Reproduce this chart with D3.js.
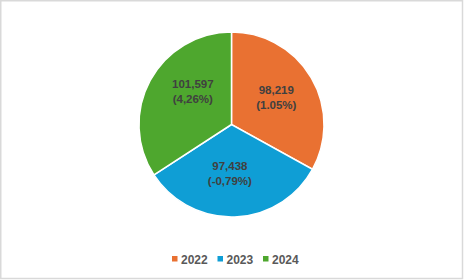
<!DOCTYPE html>
<html>
<head>
<meta charset="utf-8">
<script src="https://cdn.jsdelivr.net/npm/d3@7"></script>
<style>
  html, body { margin: 0; padding: 0; background: #fff; }
  svg { display: block; }
</style>
</head>
<body>
<div id="chart"></div>
<script>
// chart data
var years = ["2022", "2023", "2024"];
var values = [98219, 97438, 101597];
var valueLabels = ["98,219", "97,438", "101,597"];
var pctLabels = ["(1.05%)", "(-0,79%)", "(4,26%)"];
var colors = ["#E97132", "#0F9ED5", "#4EA72E"];

var width = 464, height = 280;
var cx = 231.5, cy = 124.5, radius = 92.5;

var svg = d3.select("#chart")
    .append("svg")
    .attr("width", width)
    .attr("height", height);

// outer frame
svg.append("rect")
    .attr("x", 0.75)
    .attr("y", 0.75)
    .attr("width", width - 2.25)
    .attr("height", height - 2.25)
    .attr("fill", "#fff")
    .attr("stroke", "#d9d9d9")
    .attr("stroke-width", 1.5);

var data = years.map(function (y, i) {
    return {year: y, value: values[i], label: valueLabels[i], pct: pctLabels[i], color: colors[i]};
});

var pie = d3.pie()
    .sort(null)
    .value(function (d) { return d.value; });

var arc = d3.arc().innerRadius(0).outerRadius(radius);
// centroid of labelArc sits at radius 52
var labelArc = d3.arc().innerRadius(52 * 2 - radius).outerRadius(radius);
// small best-fit nudges, like the spreadsheet places them
var nudge = [[0, -1.5], [-3.5, -3.5], [7, -9]];

var g = svg.append("g")
    .attr("transform", "translate(" + cx + "," + cy + ")");

var arcs = pie(data);

g.selectAll("path")
    .data(arcs)
    .enter()
    .append("path")
    .attr("d", arc)
    .attr("fill", function (d) { return d.data.color; })
    .attr("stroke", "#fff")
    .attr("stroke-width", 1.5);

// slice labels
var labels = g.selectAll("text.slice")
    .data(arcs)
    .enter()
    .append("text")
    .attr("class", "slice")
    .attr("transform", function (d, i) {
        var c = labelArc.centroid(d);
        return "translate(" + (c[0] + nudge[i][0]) + "," + (c[1] + nudge[i][1]) + ")";
    })
    .attr("text-anchor", "middle")
    .style("font-family", "'Liberation Sans', Arial, sans-serif")
    .style("font-weight", "bold")
    .style("font-size", "11.5px")
    .style("fill", "#404040");

labels.append("tspan")
    .attr("x", 0)
    .attr("dy", "-0.25em")
    .text(function (d) { return d.data.label; });
labels.append("tspan")
    .attr("x", 0)
    .attr("dy", "1.3em")
    .text(function (d) { return d.data.pct; });

// legend
var legendX = d3.scalePoint()
    .domain(years)
    .range([172, 263]);

var legend = svg.selectAll("g.legend")
    .data(data)
    .enter()
    .append("g")
    .attr("class", "legend")
    .attr("transform", function (d) { return "translate(" + legendX(d.year) + ",259)"; });

legend.append("rect")
    .attr("x", 0)
    .attr("y", -3)
    .attr("width", 5.5)
    .attr("height", 5.5)
    .attr("fill", function (d) { return d.color; });

legend.append("text")
    .attr("x", 9)
    .attr("y", 4.5)
    .style("font-family", "'Liberation Sans', Arial, sans-serif")
    .style("font-weight", "bold")
    .style("font-size", "12px")
    .style("fill", "#595959")
    .text(function (d) { return d.year; });
</script>
</body>
</html>
